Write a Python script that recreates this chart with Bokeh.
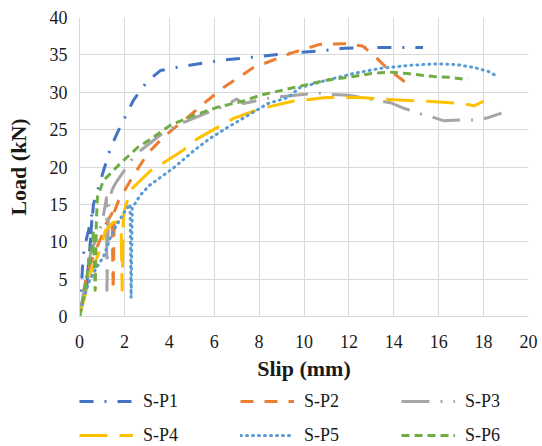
from bokeh.plotting import figure
from bokeh.models import Range1d, Legend, LegendItem, FixedTicker
from bokeh.layouts import column
from bokeh.embed import file_html
from bokeh.resources import INLINE

# ---- data ----
names = ["S-P1", "S-P2", "S-P3", "S-P4", "S-P5", "S-P6"]

p1_x = [0, 0.08, 0.13, 0.2, 0.4, 0.58, 0.3, 0.62, 0.85, 1.07, 1.38, 1.69, 2.13, 2.4, 3.0, 3.6, 4.3, 4.9, 5.7, 6.4, 7.75, 9.3, 10.6, 11.8, 13.1, 14.0, 15.3]
p1_y = [0, 3.5, 6.5, 9.0, 11.5, 14.0, 3.2, 15.0, 17.3, 19.5, 22.5, 24.6, 27.3, 28.9, 31.4, 32.9, 33.3, 33.6, 34.0, 34.3, 34.7, 35.2, 35.5, 35.9, 36.0, 36.0, 36.0]

p2_x = [0, 0.27, 0.49, 0.71, 0.94, 1.2, 1.45, 1.5, 1.55, 1.74, 2.27, 3.03, 3.74, 4.8, 5.7, 6.4, 7.75, 8.8, 9.5, 10.7, 11.8, 12.6, 13.2, 13.7, 14.4, 14.8]
p2_y = [0, 4.8, 7.1, 8.8, 10.4, 12.5, 13.8, 3.5, 14.0, 15.5, 18.2, 21.8, 24.0, 26.6, 28.9, 30.6, 33.3, 34.5, 35.3, 36.4, 36.5, 36.2, 34.7, 33.2, 31.6, 30.5]

p3_x = [0, 0.25, 0.49, 0.71, 1.0, 1.2, 1.22, 1.3, 1.45, 1.6, 2.4, 2.72, 3.74, 4.5, 5.4, 6.5, 7.0, 7.3, 8.6, 10.6, 11.3, 12.0, 13.1, 13.85, 14.4, 15.2, 15.8, 16.2, 17.1, 17.7, 18.2, 18.8]
p3_y = [0, 4.5, 8.4, 10.2, 12.4, 15.9, 3.5, 15.5, 16.9, 17.8, 21.3, 22.2, 24.6, 25.8, 26.9, 28.2, 29.1, 28.5, 29.3, 29.9, 29.7, 29.6, 29.0, 28.6, 27.9, 27.1, 26.6, 26.2, 26.3, 26.3, 26.6, 27.2]

p4_x = [0, 0.27, 0.49, 0.85, 1.16, 1.5, 1.85, 1.9, 1.95, 2.0, 2.27, 2.58, 3.16, 3.92, 4.6, 5.26, 6.15, 6.86, 8.06, 9.5, 11.0, 12.5, 14.0, 15.5, 17.0, 17.6, 18.0]
p4_y = [0, 3.1, 5.8, 8.4, 11.5, 12.6, 12.6, 3.5, 12.8, 14.2, 16.9, 17.8, 19.5, 20.9, 22.2, 23.8, 25.3, 26.5, 27.8, 28.8, 29.3, 29.3, 29.0, 28.8, 28.5, 28.2, 28.8]

p5_x = [0, 0.15, 0.4, 0.75, 1.07, 1.38, 1.7, 2.05, 2.25, 2.3, 2.35, 2.7, 3.1, 3.6, 4.2, 5.1, 5.8, 6.6, 7.5, 8.4, 9.3, 9.8, 11.0, 12.2, 13.4, 14.7, 15.9, 16.8, 17.6, 18.2, 18.5]
p5_y = [0, 2.0, 4.5, 6.5, 8.0, 10.6, 12.5, 14.2, 15.0, 2.5, 14.5, 16.2, 17.5, 18.6, 19.9, 22.2, 23.8, 25.3, 26.9, 28.5, 29.3, 30.6, 31.6, 32.5, 33.2, 33.6, 33.8, 33.7, 33.3, 32.8, 32.3]

p6_x = [0, 0.18, 0.35, 0.49, 0.58, 0.62, 0.7, 0.75, 0.8, 1.07, 1.83, 2.58, 3.3, 4.05, 5.1, 6.15, 7.26, 8.06, 9.5, 11.0, 12.2, 13.0, 13.8, 14.6, 15.8, 16.5, 17.3]
p6_y = [0, 2.5, 5.8, 7.9, 9.8, 11.5, 3.5, 12.5, 16.0, 18.2, 20.5, 22.6, 24.0, 25.6, 26.9, 28.0, 28.8, 29.6, 30.6, 31.6, 32.1, 32.5, 32.7, 32.5, 32.1, 32.0, 31.7]

x_ticks = [0, 2, 4, 6, 8, 10, 12, 14, 16, 18, 20]
y_ticks = [0, 5, 10, 15, 20, 25, 30, 35, 40]

series = [(p1_x, p1_y), (p2_x, p2_y), (p3_x, p3_y), (p4_x, p4_y), (p5_x, p5_y), (p6_x, p6_y)]
colors = ["#4472C4", "#ED7D31", "#A5A5A5", "#FFC000", "#5B9BD5", "#70AD47"]
dashes = ["14 11 2 11", "13 11", "28 11 2 11", "28 12", "1 5", "8 5"]
caps = ["butt", "butt", "butt", "butt", "round", "butt"]

FONT = "Liberation Serif"

p = figure(width=542, height=386, output_backend="svg", toolbar_location=None,
           x_range=Range1d(0, 20), y_range=Range1d(0, 40),
           min_border_left=79, min_border_right=14, min_border_top=17, min_border_bottom=70)
p.outline_line_color = None
p.background_fill_color = "white"
p.border_fill_color = "white"

for ax in (p.xaxis[0], p.yaxis[0]):
    ax.major_tick_line_color = None
    ax.minor_tick_line_color = None
    ax.major_tick_out = 0
    ax.major_tick_in = 0
    ax.axis_line_color = "#d9d9d9"
    ax.major_label_text_font = FONT
    ax.major_label_text_font_size = "18px"
    ax.major_label_text_color = "#1a1a1a"
    ax.axis_label_text_font = FONT
    ax.axis_label_text_font_size = "22px"
    ax.axis_label_text_font_style = "bold"
    ax.axis_label_text_color = "#1a1a1a"

p.xaxis.ticker = FixedTicker(ticks=x_ticks)
p.yaxis.ticker = FixedTicker(ticks=y_ticks)
p.xaxis.axis_label = "Slip (mm)"
p.yaxis.axis_label = "Load (kN)"
p.xaxis.major_label_standoff = 18
p.yaxis.major_label_standoff = 12
p.xaxis.axis_label_standoff = 5
p.yaxis.axis_label_standoff = 16

p.grid.grid_line_color = "#d9d9d9"
p.grid.grid_line_width = 1

for (xs, ys), c, d, cap in zip(series, colors, dashes, caps):
    p.line(xs, ys, line_color=c, line_width=3, line_dash=d, line_cap=cap, line_join="round")

# ---- legend strip below the chart (its ranges keep the proxy lines out of view) ----
leg = figure(width=542, height=60, output_backend="svg", toolbar_location=None,
             x_axis_type=None, y_axis_type=None,
             x_range=Range1d(100, 101), y_range=Range1d(100, 101),
             min_border_left=0, min_border_right=0, min_border_top=0, min_border_bottom=0)
leg.outline_line_color = None
leg.grid.visible = False
leg.background_fill_color = "white"
leg.border_fill_color = "white"

leg_renderers = []
for (xs, ys), c, d, cap in zip(series, colors, dashes, caps):
    leg_renderers.append(leg.line(xs, ys, line_color=c, line_width=3, line_dash=d, line_cap=cap))

# legend is filled column by column: order so rows read P1 P2 P3 / P4 P5 P6
order = [0, 3, 1, 4, 2, 5]
items = [LegendItem(label=names[i], renderers=[leg_renderers[i]]) for i in order]

legend = Legend(items=items, ncols=3, location=(0, -4),
                glyph_width=54, glyph_height=30, label_height=30, label_width=93,
                label_standoff=10, spacing=4, padding=0, margin=0,
                border_line_color=None, background_fill_alpha=0,
                label_text_font=FONT, label_text_font_size="18px", label_text_color="#1a1a1a")
leg.add_layout(legend, "center")

layout = column(p, leg, spacing=0)
open("out.html", "w").write(file_html(layout, INLINE))
